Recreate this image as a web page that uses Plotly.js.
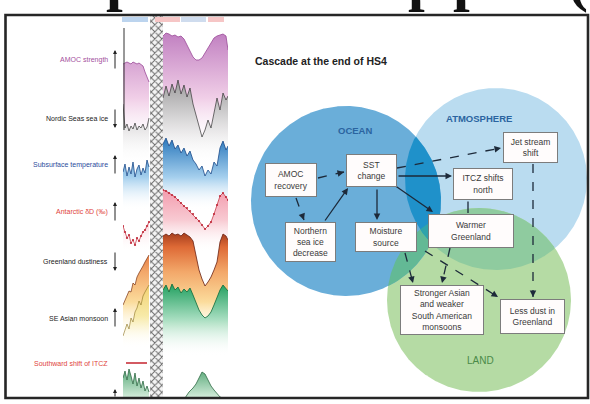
<!DOCTYPE html>
<html><head><meta charset="utf-8">
<script src="https://cdn.plot.ly/plotly-3.0.1.min.js"></script>
<style>html,body{margin:0;padding:0;background:#fff}#chart{width:590px;height:404px}</style>
</head><body><div id="chart"></div>
<script>
// ---------- time-series panel data (time index across the HS4 window) ----------
const tLeft  = [0,2,4,6,8,10,12,14,16,18,20,22,24,26];
const tRight = [40,43,46,49,52,55,58,61,64,67,70,73,76,79,82,85,88,91,94,97,100,103,105];
const tItcz  = [62,66,70,73,76,79,82,85,88,91,94,97,100];
const tItczLeft = [0,2,4,6,8,10,12,14,16,18,20,22,24,26];

// values in stacked-offset units (larger = lower on the page)
const amocLeft  = [64,63,62,63,64,62,63,64,63,65,66,72,78,82];
const amocRight = [36,33,34,36,35,37,36,39,45,51,57,60,60,58,53,48,42,38,36,35,34,36,50];
const iceLeft   = [104,128,124,131,126,129,123,130,126,128,124,130,127,118];
const iceRight  = [98,86,96,84,93,80,94,85,97,88,104,115,128,137,130,120,128,112,98,110,93,100,96];
const sstLeft   = [172,164,176,167,174,162,177,169,165,175,168,173,160,167];
const sstRight  = [144,138,146,140,149,145,153,148,156,151,160,164,170,166,176,170,174,162,166,148,141,150,146];
const isoLeft   = [226,232,238,235,243,240,245,238,241,236,232,230,226,222];
const isoRight  = [190,191,193,195,197,200,203,206,208,211,214,218,221,225,229,226,222,214,205,196,193,197,200];
const dustLeft  = [305,300,296,291,292,283,285,277,273,270,266,262,258,255];
const dustRight = [236,234,236,233,235,234,236,233,235,237,241,256,270,279,286,282,277,270,262,242,234,236,240];
const monLeft   = [336,330,324,329,318,322,312,308,301,305,296,292,288,285];
const monRight  = [290,285,292,284,290,287,293,289,292,288,295,302,310,315,318,316,312,305,298,290,285,288,291];
const itczLeft  = [378,371,380,369,376,384,373,386,378,388,381,391,386,392];
const itczRight = [398,392,388,384,378,372,374,380,386,390,394,397,398];
const itczShift = [[3,24],[363,363]];
const hatchBand = [27,40];

const seriesLabels = ['AMOC strength','Nordic Seas sea ice','Subsurface temperature','Antarctic δD (‰)','Greenland dustiness','SE Asian monsoon','Southward shift of ITCZ'];
const labelColors  = ['#a4509e','#222','#2c4c9c','#e0443c','#222','#222','#e0443c'];
const labelDir     = ['up','down','up','up','down','up',''];

// ---------- cascade diagram data ----------
const circleNames  = ['OCEAN','ATMOSPHERE','LAND'];
const circleCx     = [346,496,479];
const circleCy     = [201,179,300];
const circleR      = [95,91,92];
const circleColors = ['#6aaed9','#badcf0','#b5dba4'];
const boxTexts = ['AMOC<br>recovery','SST<br>change','Jet stream<br>shift','ITCZ shifts<br>north','Warmer<br>Greenland',
  'Northern<br>sea ice<br>decrease','Moisture<br>source','Stronger Asian<br>and weaker<br>South American<br>monsoons','Less dust in<br>Greenland'];

// ---------- build ----------
const traces = [];
function band(x, y, base, scale, start, stop, lineColor, lw, markers){
  traces.push({type:'scatter',mode:'lines',x:x,y:x.map(()=>base),line:{width:0},hoverinfo:'skip',xaxis:'x',yaxis:'y'});
  traces.push({type:'scatter',mode:markers?'lines+markers':'lines',x:x,y:y,fill:'tonexty',
    fillgradient:{type:'vertical',colorscale:scale,start:start,stop:stop},
    line:{color:lineColor,width:lw},marker:{size:2.2,color:lineColor},hoverinfo:'skip',xaxis:'x',yaxis:'y'});
}
const purpleS = [[0,'rgba(255,255,255,0)'],[0.45,'rgba(240,204,230,0.95)'],[1,'#c282c2']];
const greyS   = [[0,'rgba(255,255,255,0)'],[0.5,'rgba(218,218,218,0.9)'],[1,'#9c9c9c']];
const blueS   = [[0,'rgba(255,255,255,0)'],[0.45,'#a6d0ee'],[1,'#2a78bc']];
const redS    = [[0,'rgba(255,255,255,0)'],[0.5,'#f8cad2'],[1,'#f29aac']];
const dustS   = [[0,'rgba(255,250,220,0)'],[0.3,'#fbdc9c'],[0.6,'#f3a86a'],[0.85,'#de6a36'],[1,'#a23a1c']];
const monS    = [[0,'rgba(255,255,255,0)'],[0.5,'#aadfc2'],[1,'#22a060']];
const yelS    = [[0,'rgba(255,255,255,0)'],[0.5,'#f7eaa8'],[1,'#f2d070']];
const itczS   = [[0,'#d6eedd'],[1,'#4aa06c']];

band(tLeft, amocLeft, 150, purpleS, 150, 35, '#9a4a98', 0.8);
band(tRight, amocRight, 150, purpleS, 150, 35, '#9a4a98', 0.8);
band(tLeft, iceLeft, 165, greyS, 165, 80, '#333', 0.7);
band(tRight, iceRight, 165, greyS, 165, 80, '#333', 0.7);
band(tLeft, sstLeft, 210, blueS, 210, 138, '#1a4a8a', 0.8);
band(tRight, sstRight, 210, blueS, 210, 138, '#1a4a8a', 0.8);
band(tLeft, isoLeft, 252, redS, 252, 188, '#c02838', 0.7, true);
band(tRight, isoRight, 252, redS, 252, 188, '#c02838', 0.7, true);
band(tLeft, dustLeft, 332, dustS, 332, 232, '#7a3010', 0.7);
band(tRight, dustRight, 332, dustS, 332, 232, '#6a2010', 0.8);
band(tLeft, monLeft, 348, yelS, 348, 284, '#8a7020', 0.6);
band(tRight, monRight, 356, monS, 356, 284, '#0b6a3a', 0.8);
band(tItczLeft, itczLeft, 398, itczS, 398, 366, '#2f6a44', 0.8);
band(tItcz, itczRight, 398, itczS, 398, 366, '#2f6a44', 0.8);
traces.push({type:'scatter',mode:'lines',x:itczShift[0],y:itczShift[1],line:{color:'#c8303a',width:1.6},hoverinfo:'skip',xaxis:'x',yaxis:'y'});
traces.push({type:'scatter',mode:'lines',x:[hatchBand[0],hatchBand[1],hatchBand[1],hatchBand[0],hatchBand[0]],y:[16,16,398,398,16],
  fill:'toself',fillcolor:'#f0f0f0',fillpattern:{shape:'x',size:5,solidity:0.35,fgcolor:'#6a6a6a',bgcolor:'rgba(242,242,242,0.85)'},
  line:{width:0},hoverinfo:'skip',xaxis:'x',yaxis:'y'});

// Venn regions
function inside(p,j){ return (p[0]-circleCx[j])**2+(p[1]-circleCy[j])**2 <= circleR[j]**2+1e-6; }
function region(ids){
  let pts=[];
  ids.forEach(i=>{ for(let k=0;k<720;k++){ const a=k/720*2*Math.PI;
    const p=[circleCx[i]+circleR[i]*Math.cos(a), circleCy[i]+circleR[i]*Math.sin(a)];
    if(ids.every(j=>j===i||inside(p,j))) pts.push(p);} });
  const mx=pts.reduce((s,p)=>s+p[0],0)/pts.length, my=pts.reduce((s,p)=>s+p[1],0)/pts.length;
  pts.sort((a,b)=>Math.atan2(a[1]-my,a[0]-mx)-Math.atan2(b[1]-my,b[0]-mx));
  pts.push(pts[0]);
  return pts;
}
function addRegion(ids,color){
  const pts=region(ids);
  traces.push({type:'scatter',mode:'lines',x:pts.map(p=>p[0]),y:pts.map(p=>p[1]),fill:'toself',fillcolor:color,line:{width:0},hoverinfo:'skip',xaxis:'x2',yaxis:'y2'});
}
addRegion([1],circleColors[1]);
addRegion([2],circleColors[2]);
addRegion([0],circleColors[0]);
addRegion([1,2],'#8fcb9f');
addRegion([0,2],'#63b995');
addRegion([0,1],'#1f91ca');
addRegion([0,1,2],'#2fa3aa');

const ann = [];
const shapes = [];
// frame
shapes.push({type:'rect',xref:'x2',yref:'y2',x0:5.5,x1:588,y0:15,y1:398,line:{color:'#262626',width:2.6}});
// big clipped heading glyphs (only their lower parts show above the frame)
[['p',104,14],['p',406,14],['p',451,14],['(',566,15]].forEach(g=>ann.push({xref:'x2',yref:'paper',x:g[1],y:1-g[2]/404,xanchor:'left',yanchor:'bottom',showarrow:false,
  text:'<b>'+g[0]+'</b>',font:{family:'Liberation Serif',size:60,color:'#111'}}));
// colored header tabs
[[122,148,'#bcd4ee'],[155,180,'#f6c6c6'],[181,206,'#cfdcee'],[208,224,'#f6c6c6']].forEach(b=>shapes.push({type:'rect',xref:'x2',yref:'y2',x0:b[0],x1:b[1],y0:17,y1:22,fillcolor:b[2],line:{width:0}}));
// axis line
shapes.push({type:'line',xref:'x2',yref:'y2',x0:124,x1:124,y0:28,y1:130,line:{color:'#333',width:1}});

// series labels
const labelY = [60,118,165,212,261,318,363];
seriesLabels.forEach((s,i)=>{
  ann.push({xref:'x2',yref:'y2',x:110,y:labelY[i],xanchor:'right',yanchor:'middle',showarrow:false,text:s,
    font:{family:'Liberation Sans',size:7,color:labelColors[i]}});
  if(labelDir[i]){
    const up = labelDir[i]==='up';
    ann.push({xref:'x2',yref:'y2',axref:'x2',ayref:'y2',x:115,y:labelY[i]+(up?-10:10),ax:115,ay:labelY[i]+(up?10:-10),
      showarrow:true,arrowhead:2,arrowsize:0.8,arrowwidth:1,arrowcolor:'#222',text:''});
  }
});
ann.push({xref:'x2',yref:'y2',axref:'x2',ayref:'y2',x:115,y:389,ax:115,ay:398,showarrow:true,arrowhead:2,arrowsize:0.8,arrowwidth:1,arrowcolor:'#222',text:''});

// diagram text
ann.push({xref:'x2',yref:'y2',x:253,y:61,xanchor:'left',showarrow:false,text:'<b>Cascade at the end of HS4</b>',font:{family:'Liberation Sans',size:10.5,color:'#222'}});
ann.push({xref:'x2',yref:'y2',x:355,y:130,showarrow:false,text:'<b>'+circleNames[0]+'</b>',font:{family:'Liberation Sans',size:9.5,color:'#2a64a0'}});
ann.push({xref:'x2',yref:'y2',x:479,y:118,showarrow:false,text:'<b>'+circleNames[1]+'</b>',font:{family:'Liberation Sans',size:9.5,color:'#2a64a0'}});
ann.push({xref:'x2',yref:'y2',x:480,y:360,showarrow:false,text:circleNames[2],font:{family:'Liberation Sans',size:10,color:'#4a8a48'}});

const boxPos = [[291,180,52,34],[371,170,51,33],[530,147,55,31],[483,184,60,32],[471,231,86,34],[310,242,51,40],[386,237,62,30],[442,310,84,50],[532,316,65,35]];
// arrows
function arrow(x0,y0,x1,y1,dashed,head){
  if(head===undefined) head=true;
  if(dashed){
    shapes.push({type:'line',xref:'x2',yref:'y2',x0:x0,y0:y0,x1:x1,y1:y1,line:{color:'#1d2a3a',width:1.3,dash:'dash'}});
    if(head){const L=Math.hypot(x1-x0,y1-y0),ux=(x1-x0)/L,uy=(y1-y0)/L;
      ann.push({xref:'x2',yref:'y2',axref:'x2',ayref:'y2',x:x1,y:y1,ax:x1-6*ux,ay:y1-6*uy,showarrow:true,arrowhead:2,arrowsize:1,arrowwidth:1.3,arrowcolor:'#1d2a3a',text:''});}
  } else {
    ann.push({xref:'x2',yref:'y2',axref:'x2',ayref:'y2',x:x1,y:y1,ax:x0,ay:y0,showarrow:true,arrowhead:head?2:0,arrowsize:1,arrowwidth:1.3,arrowcolor:'#1d2a3a',text:''});
  }
}
arrow(318,178,344,172,true);
arrow(296,198,304,220,true);
arrow(324,222,348,188,false);
arrow(377,188,377,220,false);
arrow(397,176,452,176,false);
arrow(394,185,433,212,false);
arrow(397,168,501,148,true);
arrow(468,200,468,213,false,false);
arrow(533,164,533,297,true);
arrow(405,253,413,283,true);
arrow(450,248,442,283,true);
arrow(425,251,498,297,true);

boxTexts.forEach((t,i)=>{const b=boxPos[i];
  ann.push({xref:'x2',yref:'y2',x:b[0],y:b[1],width:b[2]-4,height:b[3]-4,showarrow:false,text:t,align:'center',valign:'middle',
    bgcolor:'#fffcfc',bordercolor:'#7c7c7c',borderwidth:1,borderpad:1,font:{family:'Liberation Sans',size:8.5,color:'#3a3a3a'}});
});

const layout = {
  width:590,height:404,margin:{l:0,r:0,t:0,b:0},showlegend:false,
  paper_bgcolor:'#fff',plot_bgcolor:'rgba(0,0,0,0)',
  xaxis:{domain:[123/590,228/590],range:[0,105],visible:false,fixedrange:true},
  yaxis:{domain:[0,1],range:[404,0],visible:false,fixedrange:true},
  xaxis2:{domain:[0,1],range:[0,590],visible:false,anchor:'y2'},
  yaxis2:{domain:[0,1],range:[404,0],visible:false,anchor:'x2'},
  shapes:shapes,annotations:ann
};
Plotly.newPlot('chart',traces,layout,{staticPlot:true,displayModeBar:false});
</script></body></html>
